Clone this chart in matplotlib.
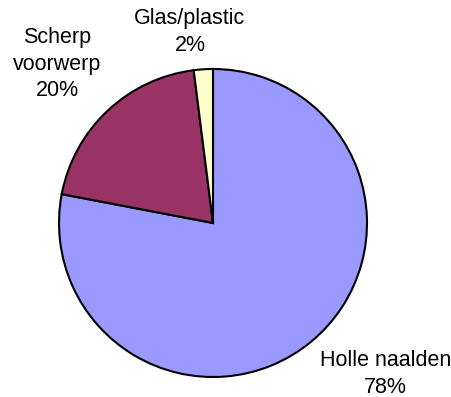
import matplotlib
matplotlib.use("Agg")
import matplotlib.pyplot as plt

categories = ["Holle naalden", "Scherp voorwerp", "Glas/plastic"]
label_text = ["Holle naalden\n78%", "Scherp\nvoorwerp\n20%", "Glas/plastic\n2%"]
values = [78, 20, 2]
colors = ["#9999FF", "#993366", "#FFFFCC"]
# label centres, in units of the pie radius
label_pos = [(1.12, -0.98), (-1.01, 1.03), (-0.15, 1.24)]

plt.rcParams['font.family'] = ['Liberation Sans', 'DejaVu Sans']

fig = plt.figure(figsize=(4.52, 3.97), dpi=100)
ax = fig.add_axes([59 / 452, 20 / 397, 308 / 452, 308 / 397])

wedges, texts = ax.pie(values, labels=label_text, colors=colors, startangle=90,
                       counterclock=False, radius=1.0,
                       wedgeprops=dict(edgecolor="black", linewidth=1.5),
                       textprops=dict(fontsize=15.5, linespacing=1.35))
for t, (x, y) in zip(texts, label_pos):
    t.set_position((x, y))
    t.set_ha("center")
    t.set_va("center")
    t.set_clip_on(False)

ax.set_xlim(-1, 1)
ax.set_ylim(-1, 1)
ax.set_aspect("auto")

fig.savefig("out.png", dpi=100)
